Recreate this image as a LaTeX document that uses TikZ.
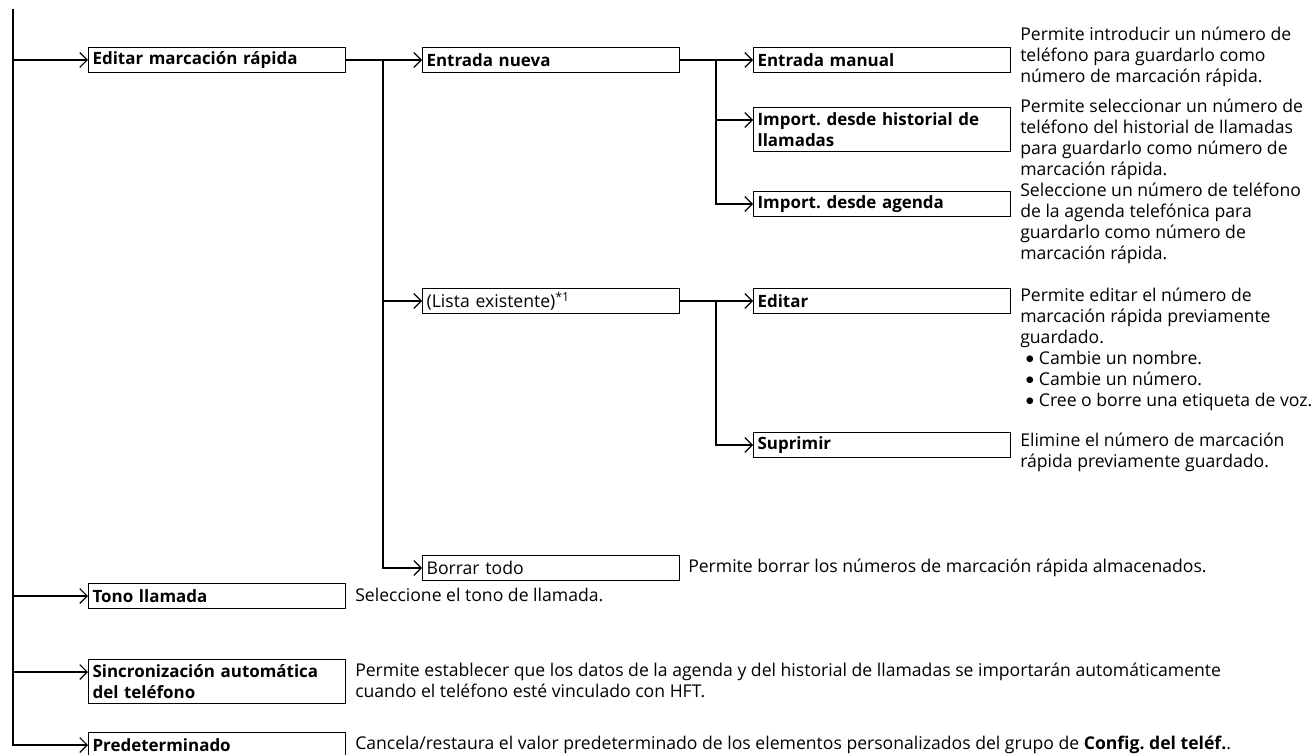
\documentclass[tikz,border=0pt]{standalone}
\usepackage{fontspec}
\setmainfont{Open Sans}
\newfontfamily\dv{DejaVu Sans}
\usetikzlibrary{arrows.meta,calc}
\frenchspacing
\newcommand\dst{\rule{0pt}{12pt}}
\newcommand\bul{\makebox[14pt][l]{\hspace{4.3pt}\raisebox{2.2pt}{\dv\fontsize{6.5pt}{6.5pt}\selectfont ●}}}
\tikzset{
  conn/.style={line width=1.4pt},
  arr/.style={conn,-{Straight Barb[length=5.5pt,width=11pt,line width=0.9pt]}},
  lbl/.style={draw,line width=0.9pt,anchor=north west,minimum width=192.5pt,minimum height=18.75pt,
    text width=186.5pt,inner xsep=3pt,inner ysep=2pt,align=left,
    font=\bfseries\fontsize{12.7pt}{15.75pt}\selectfont},
  lbltwo/.style={lbl,minimum height=33pt},
  lblr/.style={lbl,font=\mdseries\fontsize{13.2pt}{15.75pt}\selectfont},
  desc/.style={anchor=north west,inner sep=0pt,align=left,font=\fontsize{13.2pt}{15.75pt}\selectfont},
}
\begin{document}
\begin{tikzpicture}[x=0.75pt,y=-0.75pt]
\useasboundingbox (0,0) rectangle (1316,755);
% level 1
\node[lbl] (b1) at (88,47) {Editar marcación rápida};
\node[lbl] (b2) at (88,583) {Tono llamada};
\node[lbltwo] (b3) at (88,659) {Sincronización automática\\del teléfono};
\node[lbl] (b4) at (88,732) {Predeterminado};
% level 2
\node[lbl] (c1) at (422,47) {Entrada nueva};
\node[lblr] (c2) at (422,288) {(Lista existente)\textsuperscript{*1}};
\node[lblr] (c3) at (422,555) {Borrar todo};
% level 3
\node[lbl] (d1) at (753,47) {Entrada manual};
\node[lbltwo] (d2) at (753,107) {Import. desde historial de\\llamadas};
\node[lbl] (d3) at (753,191) {Import. desde agenda};
\node[lbl] (d4) at (753,288) {Editar};
\node[lbl] (d5) at (753,432) {Suprimir};
\foreach \n in {b1,b2,b3,b4,c1,c2,c3,d1,d2,d3,d4,d5}{
  \coordinate (\n-in) at ([yshift=-9.75pt]\n.north west);
  \coordinate (\n-out) at ([yshift=-9.75pt]\n.north east);
}
\coordinate (top) at (13,9);
\coordinate (j1) at (383,0);
\coordinate (j2) at (716,0);
% connectors
\draw[arr] (top) |- (b4-in);
\draw[arr] (top |- b1-in) -- (b1-in);
\draw[arr] (top |- b2-in) -- (b2-in);
\draw[arr] (top |- b3-in) -- (b3-in);
\draw[arr] (b1-out) -- (c1-in);
\draw[arr] (j1 |- c1-in) |- (c3-in);
\draw[arr] (j1 |- c2-in) -- (c2-in);
\draw[arr] (c1-out) -- (d1-in);
\draw[arr] (j2 |- d1-in) |- (d3-in);
\draw[arr] (j2 |- d2-in) -- (d2-in);
\draw[arr] (c2-out) -- (d4-in);
\draw[arr] (j2 |- d4-in) |- (d5-in);
% descriptions
\node[desc] (e1) at (1020,24) {\dst Permite introducir un número de\\teléfono para guardarlo como\\número de marcación rápida.};
\node[desc] (e2) at (1020,96) {\dst Permite seleccionar un número de\\teléfono del historial de llamadas\\para guardarlo como número de\\marcación rápida.};
\node[desc] (e3) at (1020,180) {\dst Seleccione un número de teléfono\\de la agenda telefónica para\\guardarlo como número de\\marcación rápida.};
\node[desc] (e4) at (1020,285) {\dst Permite editar el número de\\marcación rápida previamente\\guardado.\\
\bul Cambie un nombre.\\
\bul Cambie un número.\\
\bul Cree o borre una etiqueta de voz.};
\node[desc] (e5) at (1020,430) {\dst Elimine el número de marcación\\rápida previamente guardado.};
\node[desc] (e6) at (688,556) {\dst Permite borrar los números de marcación rápida almacenados.};
\node[desc] (e7) at (355,585) {\dst Seleccione el tono de llamada.};
\node[desc] (e8) at (355,660) {\dst Permite establecer que los datos de la agenda y del historial de llamadas se importarán automáticamente\\cuando el teléfono esté vinculado con HFT.};
\node[desc] (e9) at (355,733) {\dst Cancela/restaura el valor predeterminado de los elementos personalizados del grupo de \textbf{Config. del teléf.}.};
\end{tikzpicture}
\end{document}
